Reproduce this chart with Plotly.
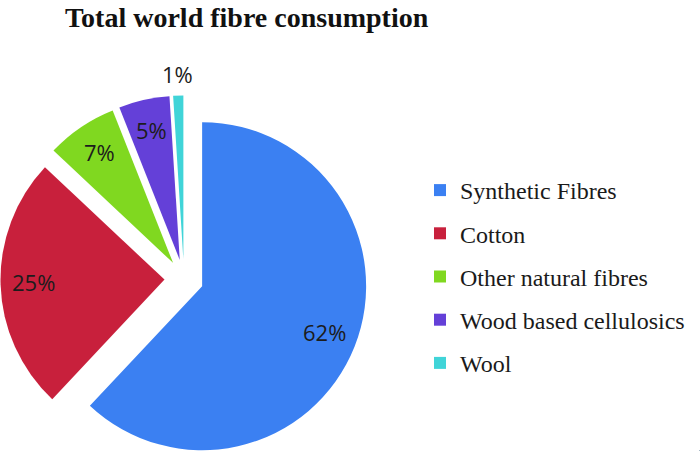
import math
import plotly.graph_objects as go

# ---- data ----
labels = ["Synthetic Fibres", "Cotton", "Other natural fibres", "Wood based cellulosics", "Wool"]
values = [62, 25, 7, 5, 1]
title_text = "Total world fibre consumption"

# ---- style ----
colors = ["#3b80f2", "#c8203c", "#80d820", "#6440d8", "#40d4d8"]
label_pos = ["inside", "inside", "inside", "inside", "outside"]

W, H = 700, 451
R = 164.0               # pie radius (px)
CX, CY = 184.0, 279.0   # centre of the un-exploded pie (px from top-left)
EXPLODE = 19.5          # explosion distance of every slice (px)

total = float(sum(values))
fig = go.Figure()
annotations = []
cum = 0.0
for i, (lab, v) in enumerate(zip(labels, values)):
    mid = (cum + v / 2.0) / total * 2 * math.pi
    cum += v
    ux, uy = math.sin(mid), -math.cos(mid)
    vx = CX + EXPLODE * ux
    vy = CY + EXPLODE * uy
    slice_colors = [colors[j] if j == i else "rgba(0,0,0,0)" for j in range(len(labels))]
    fig.add_trace(go.Pie(
        labels=labels, values=values, sort=False, direction="clockwise", rotation=0,
        marker=dict(colors=slice_colors, line=dict(width=0)),
        textinfo="none", hoverinfo="skip", showlegend=False,
        domain=dict(x=[max(0.0, (vx - R) / W), min(1.0, (vx + R) / W)],
                    y=[max(0.0, 1 - (vy + R) / H), min(1.0, 1 - (vy - R) / H)]),
    ))
    k = 0.8 if label_pos[i] == "inside" else 1.12
    tx = vx + k * R * ux
    ty = vy + k * R * uy
    annotations.append(dict(
        x=tx / W, y=1 - ty / H, xref="paper", yref="paper", yshift=2,
        text=f"{v / total:.0%}", showarrow=False, xanchor="center", yanchor="middle",
        font=dict(family="Open Sans", size=22, color="#1c1c1c"),
    ))

# legend entries (one tiny pie per label so that rows can be spaced)
for i, (lab, v) in enumerate(zip(labels, values)):
    fig.add_trace(go.Pie(
        labels=[lab], values=[v], sort=False,
        marker=dict(colors=[colors[i]], line=dict(width=0)),
        textinfo="none", hoverinfo="skip", showlegend=True, legendgroup=lab,
        domain=dict(x=[0.999, 1.0], y=[0.0, 0.001]),
    ))

annotations.append(dict(
    x=247 / W, y=1.0, xref="paper", yref="paper", text=f"<b>{title_text}</b>",
    showarrow=False, xanchor="center", yanchor="top",
    font=dict(family="Liberation Serif", size=28, color="#111111"),
))

fig.update_layout(
    width=W, height=H,
    margin=dict(l=0, r=0, t=0, b=0),
    paper_bgcolor="white", plot_bgcolor="white",
    annotations=annotations,
    legend=dict(x=0.6, y=0.6275, xanchor="left", yanchor="top",
                font=dict(family="Liberation Serif", size=24, color="#1a1a1a"),
                tracegroupgap=9, bgcolor="rgba(0,0,0,0)", traceorder="grouped"),
)

fig.write_html("out.html", config={"displayModeBar": False},
               post_script="document.body.style.margin='0';")
